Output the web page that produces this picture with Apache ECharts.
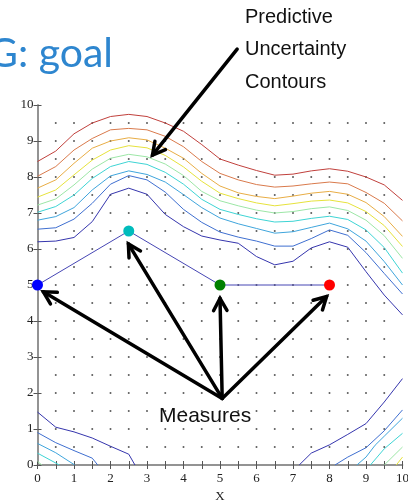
<!DOCTYPE html>
<html>
<head>
<meta charset="utf-8">
<script src="https://cdn.jsdelivr.net/npm/echarts@6/dist/echarts.min.js"></script>
<style>
html, body { margin: 0; padding: 0; background: #fff; }
#main { width: 408px; height: 500px; }
</style>
</head>
<body>
<div id="main"></div>
<script>
// measured points
const measX = [0, 2.5, 5, 8];
const measY = [5, 6.5, 5, 5];
const measColors = ['#0000ff', '#00bcbc', '#008000', '#ff0000'];

// sample grid (dots)
const gridX = [0.5, 1, 1.5, 2, 2.5, 3, 3.5, 4, 4.5, 5, 5.5, 6, 6.5, 7, 7.5, 8, 8.5, 9, 9.5];
const gridY = [0.5, 1, 1.5, 2, 2.5, 3, 3.5, 4, 4.5, 5, 5.5, 6, 6.5, 7, 7.5, 8, 8.5, 9, 9.5];

// upper contours, one value per contourX
const contourX = [0, 0.5, 1, 1.5, 2, 2.5, 3, 3.5, 4, 4.5, 5, 5.5, 6, 6.5, 7, 7.5, 8, 8.5, 9, 9.5, 10];
const upper1 = [6.2, 6.22, 6.32, 6.76, 7.52, 7.69, 7.52, 6.96, 6.62, 6.36, 6.25, 6.16, 5.79, 5.56, 5.66, 6.03, 6.2, 6.05, 5.37, 4.72, 4.17];
const upper2 = [6.55, 6.59, 6.83, 7.27, 7.8, 8.04, 7.92, 7.58, 7.1, 6.74, 6.47, 6.33, 6.22, 6.08, 6.08, 6.29, 6.53, 6.38, 5.9, 5.32, 4.75];
const upper3 = [6.8, 6.9, 7.15, 7.64, 8.03, 8.17, 8.07, 7.86, 7.51, 7.15, 6.86, 6.7, 6.57, 6.44, 6.48, 6.6, 6.72, 6.56, 6.22, 5.65, 5.0];
const upper4 = [7.02, 7.18, 7.5, 7.96, 8.29, 8.43, 8.35, 8.13, 7.8, 7.38, 7.1, 6.96, 6.84, 6.75, 6.77, 6.85, 6.91, 6.82, 6.53, 6.04, 5.33];
const upper5 = [7.22, 7.39, 7.78, 8.22, 8.52, 8.63, 8.56, 8.36, 8.04, 7.6, 7.34, 7.2, 7.08, 7.0, 7.04, 7.12, 7.17, 7.07, 6.8, 6.37, 5.74];
const upper6 = [7.44, 7.64, 8.06, 8.47, 8.75, 8.87, 8.81, 8.6, 8.28, 7.88, 7.55, 7.4, 7.28, 7.2, 7.26, 7.33, 7.36, 7.28, 7.04, 6.65, 6.07];
const upper7 = [7.69, 7.92, 8.38, 8.8, 9.0, 9.09, 9.03, 8.8, 8.52, 8.1, 7.75, 7.56, 7.46, 7.4, 7.47, 7.55, 7.6, 7.52, 7.29, 6.9, 6.35];
const upper8 = [8.02, 8.29, 8.75, 9.07, 9.31, 9.35, 9.31, 9.13, 8.84, 8.43, 8.1, 7.92, 7.79, 7.72, 7.75, 7.81, 7.86, 7.81, 7.57, 7.27, 6.78];
const upper9 = [8.43, 8.72, 9.2, 9.5, 9.68, 9.74, 9.68, 9.5, 9.27, 8.9, 8.5, 8.33, 8.18, 8.05, 8.08, 8.17, 8.23, 8.16, 8.0, 7.78, 7.35];

// lower left corner contours [x, y]
const lowLeft1 = [[0, 1.47], [0.5, 1.05], [1, 0.92], [1.5, 0.75], [2, 0.52], [2.5, 0.3], [2.67, 0]];
const lowLeft2 = [[0, 0.9], [0.5, 0.62], [1, 0.4], [1.5, 0.19], [1.65, 0]];
const lowLeft3 = [[0, 0.6], [0.5, 0.34], [1.02, 0]];
const lowLeft4 = [[0, 0.33], [0.6, 0]];
const lowLeft5 = [[0, 0.1], [0.12, 0]];

// lower right corner contours [x, y]
const lowRight1 = [[7.17, 0], [7.5, 0.33], [8, 0.56], [8.5, 0.85], [9, 1.15], [9.5, 1.75], [10, 2.4]];
const lowRight2 = [[8.15, 0], [8.5, 0.22], [9, 0.48], [9.5, 0.95], [10, 1.53]];
const lowRight3 = [[8.75, 0], [9, 0.22], [9.25, 0.55], [9.5, 0.8], [10, 1.3]];
const lowRight4 = [[9.12, 0], [9.5, 0.45], [10, 0.88]];
const lowRight5 = [[9.5, 0], [10, 0.5]];
const lowRight6 = [[9.83, 0], [10, 0.22]];

const levelColors = ['#3535ad', '#3f6fd0', '#3fa5dc', '#3ed4d4', '#9ce6a6', '#e6e23c', '#e8ad45', '#d97a4c', '#c0403c'];

// annotation arrows in data space
const arrowFrom = [[5.47, 11.55], [5.06, 1.85], [5.06, 1.85], [5.06, 1.85], [5.06, 1.85]];
const arrowTo = [[3.15, 8.61], [0.16, 4.81], [2.49, 6.14], [5.0, 4.63], [7.92, 4.68]];

const chart = echarts.init(document.getElementById('main'));

const series = [];
const pts = [];
gridX.forEach(function (x) { gridY.forEach(function (y) { pts.push([x, y]); }); });
series.push({
	type: 'scatter', data: pts, symbolSize: 2, silent: true,
	itemStyle: { color: '#333' }
});

const uppers = [upper1, upper2, upper3, upper4, upper5, upper6, upper7, upper8, upper9];
uppers.forEach(function (vals, i) {
	series.push({
		type: 'line', showSymbol: false, silent: true,
		data: contourX.map(function (x, k) { return [x, vals[k]]; }),
		lineStyle: { width: 1, color: levelColors[i] }
	});
});
[lowLeft1, lowLeft2, lowLeft3, lowLeft4, lowLeft5].forEach(function (d, i) {
	series.push({ type: 'line', showSymbol: false, silent: true, data: d, lineStyle: { width: 1, color: levelColors[i] } });
});
[lowRight1, lowRight2, lowRight3, lowRight4, lowRight5, lowRight6].forEach(function (d, i) {
	series.push({ type: 'line', showSymbol: false, silent: true, data: d, lineStyle: { width: 1, color: levelColors[i] } });
});

series.push({
	type: 'line', clip: false,
	data: measX.map(function (x, i) {
		return { value: [x, measY[i]], itemStyle: { color: measColors[i], borderWidth: 0 } };
	}),
	symbol: 'circle', symbolSize: 11, showSymbol: true,
	lineStyle: { width: 1, color: '#4646b4' },
	z: 5
});

const frameLine = { lineStyle: { color: '#8c8c8c', width: 1.5 } };
const tickIn = { inside: true, length: 4, lineStyle: { color: '#555', width: 1 } };
const serif = "'Liberation Serif', 'DejaVu Serif', serif";

chart.setOption({
	animation: false,
	backgroundColor: '#fff',
	grid: { left: 37.5, right: 5.5, top: 105, bottom: 35, containLabel: false, outerBoundsMode: 'none' },
	xAxis: [{
		type: 'value', min: 0, max: 10, interval: 0.5, position: 'bottom',
		axisLine: frameLine, axisTick: tickIn, splitLine: { show: false },
		axisLabel: {
			margin: 7, fontFamily: serif, fontSize: 13, color: '#222',
			formatter: function (v) { return v % 1 === 0 ? String(v) : ''; }
		},
		name: 'X', nameLocation: 'middle', nameGap: 19,
		nameTextStyle: { fontFamily: serif, fontSize: 13, color: '#222' }
	}, {
		type: 'value', min: 0, max: 10, interval: 0.5, position: 'top',
		axisLine: frameLine, axisTick: tickIn, splitLine: { show: false },
		axisLabel: { show: false }
	}],
	yAxis: [{
		type: 'value', min: 0, max: 10, interval: 1, position: 'left',
		axisLine: frameLine, axisTick: tickIn, splitLine: { show: false },
		axisLabel: { margin: 4, fontFamily: serif, fontSize: 13, color: '#222' }
	}, {
		type: 'value', min: 0, max: 10, interval: 1, position: 'right',
		axisLine: frameLine, axisTick: tickIn, splitLine: { show: false },
		axisLabel: { show: false }
	}],
	series: series
});

// arrows and text
const graphics = [];
arrowFrom.forEach(function (a, i) {
	const p0 = chart.convertToPixel({ gridIndex: 0 }, a);
	const p1 = chart.convertToPixel({ gridIndex: 0 }, arrowTo[i]);
	const ang = Math.atan2(p1[1] - p0[1], p1[0] - p0[0]);
	const len = 14, spread = 0.5;
	graphics.push({
		type: 'line', z: 100,
		shape: { x1: p0[0], y1: p0[1], x2: p1[0], y2: p1[1] },
		style: { stroke: '#000', lineWidth: 3.5, lineCap: 'round' }
	});
	graphics.push({
		type: 'polyline', z: 100,
		shape: { points: [
			[p1[0] - len * Math.cos(ang - spread), p1[1] - len * Math.sin(ang - spread)],
			[p1[0], p1[1]],
			[p1[0] - len * Math.cos(ang + spread), p1[1] - len * Math.sin(ang + spread)]
		] },
		style: { stroke: '#000', fill: null, lineWidth: 3.5, lineCap: 'round', lineJoin: 'miter' }
	});
});

const sans = "'Liberation Sans', Arial, sans-serif";
[['Predictive', 17], ['Uncertainty', 49], ['Contours', 82]].forEach(function (t) {
	graphics.push({
		type: 'text', z: 100,
		style: { text: t[0], x: 245, y: t[1], fontFamily: sans, fontSize: 20, fill: '#111', verticalAlign: 'middle' }
	});
});
graphics.push({
	type: 'text', z: 100,
	style: { text: 'Measures', x: 159, y: 416, fontFamily: sans, fontSize: 21, fill: '#111', verticalAlign: 'middle' }
});
graphics.push({
	type: 'text', z: 100,
	style: { text: 'G: goal', x: 113, y: 33, fontFamily: "Lato, 'Open Sans', sans-serif", fontSize: 41, fill: '#2e86cf', align: 'right', verticalAlign: 'alphabetic' }
});

chart.setOption({ graphic: graphics });

window.onresize = function () { chart.resize(); };
</script>
</body>
</html>
